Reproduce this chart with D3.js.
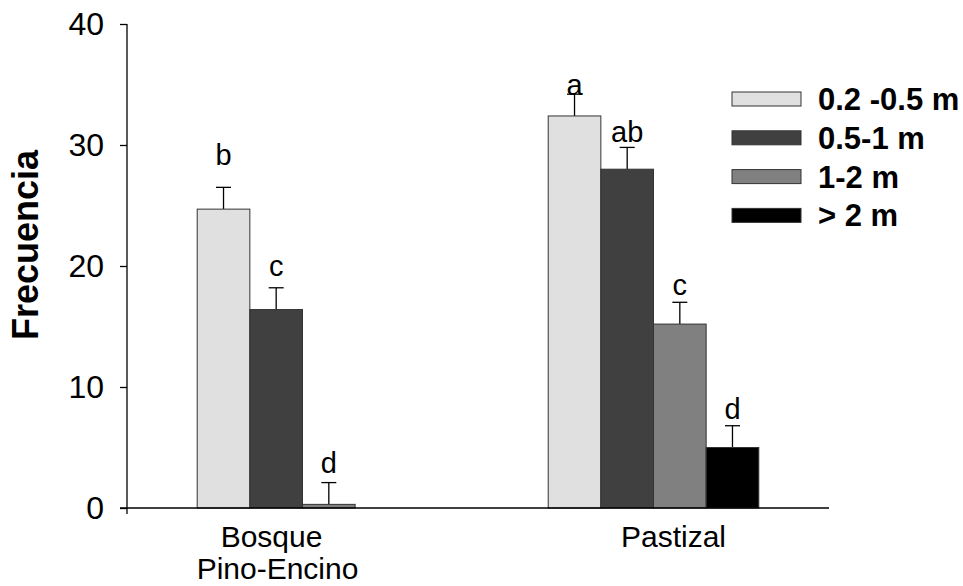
<!DOCTYPE html>
<html><head><meta charset="utf-8">
<script src="https://cdn.jsdelivr.net/npm/d3@7"></script>
<style>body{margin:0;background:#fff}svg{display:block}text{font-family:"Liberation Sans",Arial,sans-serif}</style>
</head><body>
<svg id="c" width="963" height="586"></svg>
<script>
const categories = ["Bosque\nPino-Encino", "Pastizal"];
const series = ["0.2 -0.5 m", "0.5-1 m", "1-2 m", "> 2 m"];
const values = [[24.7, 16.4, 0.3, null], [32.4, 28.0, 15.2, 5.0]];
const errors = [[1.8, 1.8, 1.8, null], [1.8, 1.8, 1.8, 1.8]];
const letters = [["b", "c", "d", null], ["a", "ab", "c", "d"]];
const letterY = [[28.35, 19.15, 2.92, null], [34.13, 30.27, 17.6, 7.36]];
const yTicks = [0, 10, 20, 30, 40];
const colors = ["#e0e0e0", "#404040", "#808080", "#000000"];

const svg = d3.select("#c");
const x0 = d3.scaleBand().domain(categories).range([127, 829]).padding(0);
const groupW = x0.bandwidth() * 0.6;
const x1 = d3.scaleBand().domain(series).range([0, groupW]).padding(0);
const y = d3.scaleLinear().domain([0, 40]).range([508, 24]);

// bars
categories.forEach((cat, ci) => {
  const gx = x0(cat) + (x0.bandwidth() - groupW) / 2;
  const g = svg.append("g").attr("transform", `translate(${gx},0)`);
  series.forEach((s, si) => {
    const v = values[ci][si];
    if (v == null) return;
    const bx = x1(s), bw = x1.bandwidth();
    const cx = bx + bw / 2;
    const e = errors[ci][si];
    g.append("line").attr("x1", cx).attr("x2", cx).attr("y1", y(v)).attr("y2", y(v + e))
      .attr("stroke", "#000").attr("stroke-width", 1.3);
    g.append("line").attr("x1", cx - 7.5).attr("x2", cx + 7.5).attr("y1", y(v + e)).attr("y2", y(v + e))
      .attr("stroke", "#000").attr("stroke-width", 1.3);
    g.append("rect").attr("x", bx).attr("y", y(v)).attr("width", bw).attr("height", y(0) - y(v))
      .attr("fill", colors[si]).attr("stroke", "#333").attr("stroke-width", 1);
    g.append("text").attr("x", cx).attr("y", y(letterY[ci][si])).attr("text-anchor", "middle")
      .attr("font-size", 29).text(letters[ci][si]);
  });
});

// y axis
const yAxis = d3.axisLeft(y).tickValues(yTicks).tickSize(7).tickPadding(16).tickFormat(d3.format("d"));
const ya = svg.append("g").attr("transform", "translate(127,0)").call(yAxis);
ya.select(".domain").remove();
ya.append("line").attr("x1", 0).attr("x2", 0).attr("y1", y(40)).attr("y2", y(0) + 6).attr("stroke", "#000").attr("stroke-width", 1.3);
ya.selectAll(".tick line").attr("stroke-width", 1.3);
ya.selectAll(".tick text").attr("font-size", 32).attr("fill", "#000").attr("font-family", "Liberation Sans, Arial, sans-serif");

// x axis
svg.append("line").attr("x1", 120).attr("x2", 829).attr("y1", y(0)).attr("y2", y(0)).attr("stroke", "#000").attr("stroke-width", 1.3);

// category labels
const catDx = [-31, 20];
categories.forEach((cat, ci) => {
  const t = svg.append("text").attr("font-size", 30).attr("text-anchor", "middle")
    .attr("transform", `translate(${x0(cat) + x0.bandwidth() / 2 + catDx[ci]},547)`);
  cat.split("\n").forEach((ln, li) => {
    t.append("tspan").attr("x", li === 0 ? 0 : 6).attr("y", li * 32).text(ln);
  });
});

// y title
svg.append("text").attr("transform", "translate(38,245) rotate(-90)").attr("text-anchor", "middle")
  .attr("font-size", 36).attr("font-weight", "bold").text("Frecuencia");

// legend
const leg = svg.append("g").attr("transform", "translate(732,99)");
series.forEach((s, si) => {
  const r = leg.append("g").attr("transform", `translate(0,${si * 38.8})`);
  r.append("rect").attr("x", 0).attr("y", -7).attr("width", 69).attr("height", 14)
    .attr("fill", colors[si]).attr("stroke", "#333").attr("stroke-width", 1);
  r.append("text").attr("x", 86).attr("y", 11).attr("font-size", 31).attr("font-weight", "bold").text(s);
});
</script>
</body></html>
